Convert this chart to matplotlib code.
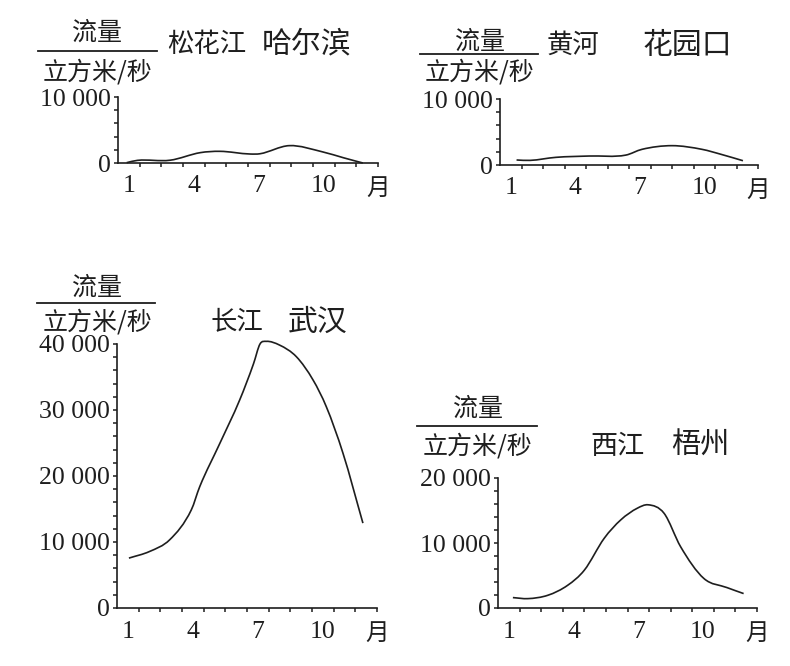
import numpy as np
import matplotlib
matplotlib.use("Agg")
import matplotlib.pyplot as plt
from matplotlib.path import Path
from matplotlib.patches import PathPatch
from matplotlib.lines import Line2D
from matplotlib.ticker import FixedLocator

# month positions / flow (m3/s)
months_sh = [0.9, 1.4, 2.9, 4.3, 5.2, 6.6, 7.05, 8.4, 9.96, 10.9, 11.8]
flow_sh = [50, 400, 420, 1570, 1770, 1360, 1400, 2630, 1670, 800, 0]

months_hh = [1.27, 1.9, 3.1, 4.65, 6.35, 7.1, 8.5, 9.9, 10.8, 11.8]
flow_hh = [760, 700, 1160, 1360, 1500, 2370, 2930, 2370, 1600, 650]

months_cj = [1.05, 2.0, 2.93, 3.93, 4.32, 5.24, 6.16, 6.8, 7.1, 7.39, 8.0, 8.78, 9.55, 10.16, 10.93, 11.85]
flow_cj = [7560, 8560, 10330, 14870, 18400, 24900, 31500, 37000, 40000, 40400, 39840, 38070, 34540, 30500, 23450, 12860]

months_xj = [1.19, 1.88, 2.81, 3.73, 4.5, 5.42, 6.19, 6.96, 7.45, 8.19, 8.96, 10.04, 11.11, 11.88]
flow_xj = [1600, 1440, 1960, 3500, 5820, 10720, 13560, 15360, 15880, 14590, 9430, 4540, 3140, 2220]

month_ticks = [1, 4, 7, 10]
month_labels = ["1", "4", "7", "10"]

yticks_small = [0, 10000]
ylabels_small = ["0", "10 000"]
yticks_cj = [0, 10000, 20000, 30000, 40000]
ylabels_cj = ["0", "10 000", "20 000", "30 000", "40 000"]
yticks_xj = [0, 10000, 20000]
ylabels_xj = ["0", "10 000", "20 000"]

W, H = 790, 666
INK = "#1e1e1e"
CJK = ["Noto Sans CJK SC", "DejaVu Sans"]
NUM = "Liberation Serif"


def fpos(x, y):
    return x / W, 1 - y / H


def smooth(ax, xs, ys):
    # cubic hermite through the read points, drawn as a bezier path
    x = np.asarray(xs, float)
    y = np.asarray(ys, float)
    sec = np.diff(y) / np.diff(x)
    t = np.empty_like(y)
    t[0], t[-1] = sec[0], sec[-1]
    t[1:-1] = (sec[:-1] + sec[1:]) / 2
    verts = [(x[0], y[0])]
    codes = [Path.MOVETO]
    for i in range(len(x) - 1):
        h = x[i + 1] - x[i]
        verts += [(x[i] + h / 3, y[i] + t[i] * h / 3),
                  (x[i + 1] - h / 3, y[i + 1] - t[i + 1] * h / 3),
                  (x[i + 1], y[i + 1])]
        codes += [Path.CURVE4] * 3
    ax.add_patch(PathPatch(Path(verts, codes), fill=False, lw=1.2,
                           ec=INK, transform=ax.transData, clip_on=False))


def panel(fig, rect, xs, ys, ymax, yticks, ylabels):
    l, t, r, b = rect
    ax = fig.add_axes([l / W, 1 - b / H, (r - l) / W, (b - t) / H])
    ax.set_xlim(0.5, 12.5)
    ax.set_ylim(0, ymax)
    for s in ("top", "right"):
        ax.spines[s].set_visible(False)
    for s in ("left", "bottom"):
        ax.spines[s].set_linewidth(1.2)
        ax.spines[s].set_color(INK)
    ax.xaxis.set_major_locator(FixedLocator(month_ticks))
    ax.set_xticklabels(month_labels)
    ax.xaxis.set_minor_locator(FixedLocator(np.arange(1.5, 13, 1)))
    ax.yaxis.set_major_locator(FixedLocator(yticks))
    ax.set_yticklabels(ylabels)
    ax.yaxis.set_minor_locator(FixedLocator(np.arange(0, ymax + 1, 2000)))
    ax.tick_params(axis="x", which="major", length=0, pad=9)
    ax.tick_params(axis="x", which="minor", length=3, width=1.1, color=INK)
    ax.tick_params(axis="y", which="both", length=3, width=1.1, color=INK, pad=2)
    for lab in ax.get_xticklabels() + ax.get_yticklabels():
        lab.set_fontfamily(NUM)
        lab.set_fontsize(18.5)
        lab.set_color(INK)
    ax.annotate("月", xy=(12.5, 0), xycoords="data", xytext=(0, -18),
                textcoords="offset points", ha="center", va="center",
                fontsize=17, family=CJK, color=INK, annotation_clip=False)
    smooth(ax, xs, ys)
    return ax


def unit_label(fig, cx, y_top, y_line, y_bot, x0, x1):
    fig.text(*fpos(cx, y_top), "流量", ha="center", va="center",
             fontsize=18, family=CJK, color=INK)
    fig.add_artist(Line2D([x0 / W, x1 / W], [1 - y_line / H] * 2,
                          transform=fig.transFigure, lw=1.3, color=INK))
    fig.text(*fpos(cx, y_bot), "立方米/秒", ha="center", va="center",
             fontsize=18, family=CJK, color=INK)


def title(fig, x, y, text, size):
    fig.text(*fpos(x, y), text, ha="center", va="center",
             fontsize=size, family=CJK, color=INK)


fig = plt.figure(figsize=(W / 100, H / 100), dpi=100)
fig.patch.set_facecolor("white")

panel(fig, (118, 97, 378, 163), months_sh, flow_sh, 10000, yticks_small, ylabels_small)
panel(fig, (500, 99, 758, 165), months_hh, flow_hh, 10000, yticks_small, ylabels_small)
panel(fig, (117, 344, 377, 608), months_cj, flow_cj, 40000, yticks_cj, ylabels_cj)
panel(fig, (498, 478, 757, 608), months_xj, flow_xj, 20000, yticks_xj, ylabels_xj)

unit_label(fig, 97, 33, 51, 72, 38, 157)
unit_label(fig, 480, 42, 54, 73, 420, 538)
unit_label(fig, 97, 288, 303, 322, 37, 155)
unit_label(fig, 478, 409, 426, 446, 417, 537)

title(fig, 207, 45, "松花江", 19)
title(fig, 307, 44, "哈尔滨", 21.5)
title(fig, 573, 45, "黄河", 19)
title(fig, 687, 45, "花园口", 21.5)
title(fig, 237, 322, "长江", 19)
title(fig, 318, 322, "武汉", 21.5)
title(fig, 618, 446, "西江", 19.5)
title(fig, 700, 446, "梧州", 21)

fig.savefig("out.png", dpi=100, facecolor="white")
